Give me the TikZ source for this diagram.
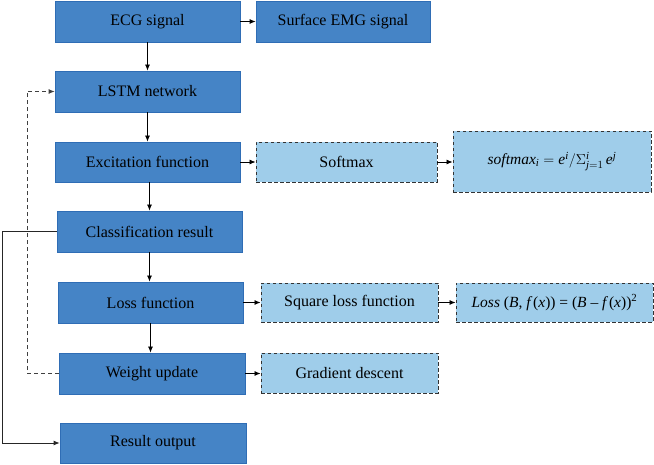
\documentclass[tikz,border=0pt]{standalone}
\usepackage{amsmath}
\usepackage{fontspec}
\setmainfont{Liberation Serif}
\usetikzlibrary{arrows.meta}
\definecolor{dfill}{HTML}{4584C6}
\definecolor{ddraw}{HTML}{2F6DB5}
\definecolor{lfill}{HTML}{9FCDEA}
\tikzset{
  mainbox/.style={draw=ddraw, fill=dfill, line width=0.8pt, inner sep=0pt, font=\fontsize{16}{18}\selectfont},
  subbox/.style={draw=black!80, fill=lfill, dashed, dash pattern=on 3.5pt off 2.5pt, line width=0.9pt, inner sep=0pt, font=\fontsize{16}{18}\selectfont},
  frm/.style={font=\fontsize{15.5}{17}\selectfont},
  arr/.style={-{Latex[length=6pt,width=5pt]}, line width=0.8pt, black},
}
\newcommand{\bx}[6]{\node[#1, minimum width=#4pt-#2pt, minimum height=#5pt-#3pt] (#6) at ({(#2+#4)/2*1pt}, {(464-(#3+#5)/2)*1pt})}
\newcommand{\itx}[1]{\text{\itshape #1}}
\begin{document}
\begin{tikzpicture}[x=1pt,y=1pt]
\useasboundingbox (0,0) rectangle (654,464);
\bx{mainbox}{55}{1}{240}{42}{ecg} {ECG signal};
\bx{mainbox}{256}{1}{430}{42}{emg} {Surface EMG signal};
\bx{mainbox}{55}{71}{240}{112}{lstm} {LSTM network};
\bx{mainbox}{55}{142}{240}{182}{exc} {Excitation function};
\bx{mainbox}{57}{211}{242}{252}{cls} {Classification result};
\bx{mainbox}{58}{282}{243}{323}{loss} {Loss function};
\bx{mainbox}{59}{353}{245}{394}{wu} {Weight update};
\bx{mainbox}{60}{423}{246}{463}{res} {Result output};
\bx{subbox}{256}{142}{437}{182}{sm} {Softmax};
\bx{subbox,frm}{453}{131}{651}{192}{smf} {\itshape softmax\upshape$_{\itx{i}} = \itx{e}^{\itx{i}}/\Sigma_{\itx{j}=1}^{\itx{i}}\,\itx{e}^{\itx{j}}$};
\bx{subbox}{261}{283}{438}{322}{sq} {Square loss function};
\bx{subbox,frm}{456}{283}{653}{322}{lf} {\itshape Loss\upshape\ (\itx{B}, \itx{f}\,(\itx{x})) = (\itx{B} -- \itx{f}\,(\itx{x}))\textsuperscript{2}};
\bx{subbox}{261}{353}{438}{393}{gd} {Gradient descent};
% vertical arrows
\draw[arr] (ecg.south) -- (ecg.south |- lstm.north);
\draw[arr] (lstm.south) -- (lstm.south |- exc.north);
\draw[arr] ([xshift=2pt]exc.south) -- ([xshift=2pt]exc.south |- cls.north);
\draw[arr] (cls.south) -- (cls.south |- loss.north);
\draw[arr] (loss.south) -- (loss.south |- wu.north);
% horizontal arrows
\draw[arr] (ecg.east) -- (emg.west);
\draw[arr] (exc.east) -- (sm.west);
\draw[arr] (sm.east) -- (sm.east -| smf.west);
\draw[arr] (loss.east) -- (loss.east -| sq.west);
\draw[arr] (sq.east) -- (sq.east -| lf.west);
\draw[arr] (wu.east) -- (wu.east -| gd.west);
% feedback lines
\coordinate (c1) at (2,0);
\coordinate (c2) at (27,0);
\draw[arr, black!85] (cls.west) -- (cls.west -| c1) |- (res.west);
\draw[arr, black!75, dashed, dash pattern=on 4pt off 3pt] (wu.west) -- (wu.west -| c2) |- (lstm.west);
\end{tikzpicture}
\end{document}
